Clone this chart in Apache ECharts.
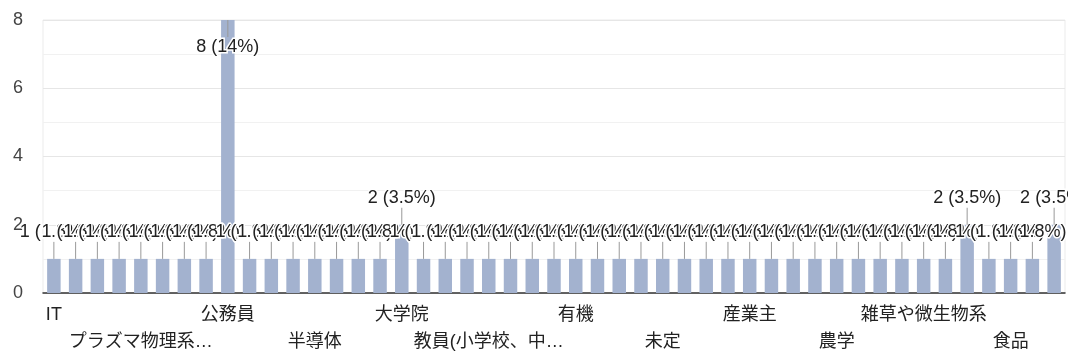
<!DOCTYPE html>
<html>
<head>
<meta charset="utf-8">
<script src="https://cdn.jsdelivr.net/npm/echarts@6/dist/echarts.min.js"></script>
<style>
  html, body { margin: 0; padding: 0; background: #fff; }
  #chart { width: 1068px; height: 356px; }
</style>
</head>
<body>
<div id="chart"></div>
<script>
// Answer categories (blank entries are answers whose names are not printed on the axis)
const categories = [
  'IT', '', '', '', 'プラズマ物理系…', '', '', '', '公務員', '', '', '',
  '半導体', '', '', '', '大学院', '', '', '', '教員(小学校、中…', '', '', '',
  '有機', '', '', '', '未定', '', '', '', '産業主', '', '', '',
  '農学', '', '', '', '雑草や微生物系', '', '', '', '食品', '', ''
];

// Number of responses per answer
const counts = [
  1, 1, 1, 1, 1, 1, 1, 1, 8, 1, 1, 1,
  1, 1, 1, 1, 2, 1, 1, 1, 1, 1, 1, 1,
  1, 1, 1, 1, 1, 1, 1, 1, 1, 1, 1, 1,
  1, 1, 1, 1, 1, 1, 2, 1, 1, 1, 2
];

// Total respondents, used for the percentage in each label
const respondents = 57;

// Value axis ticks
const yTicks = [0, 2, 4, 6, 8];

const FONT = "'Liberation Sans', Arial, 'Noto Sans CJK JP', sans-serif";

function pctText(v) {
  const p = Math.round(v / respondents * 1000) / 10;
  const s = (p % 1 === 0) ? p.toFixed(0) : p.toFixed(1);
  return v + ' (' + s + '%)';
}

const chart = echarts.init(document.getElementById('chart'), null, { renderer: 'canvas' });

const yMax = yTicks[yTicks.length - 1];

chart.setOption({
  animation: false,
  backgroundColor: '#fff',
  grid: {
    left: 43, right: 3, top: 20, bottom: 58,
    show: true, borderColor: '#ebebeb', borderWidth: 1
  },
  xAxis: {
    type: 'category',
    data: categories,
    axisLine: { show: true, lineStyle: { color: '#333', width: 1.5 } },
    axisTick: { show: false },
    splitLine: { show: false },
    axisLabel: {
      interval: 3,
      margin: 9,
      color: '#222',
      fontSize: 18,
      fontFamily: FONT,
      lineHeight: 27,
      formatter: function (value, index) {
        // alternate rows so that long names don't collide
        return (index % 8 === 4) ? '\n' + value : value;
      }
    }
  },
  yAxis: {
    type: 'value',
    min: yTicks[0],
    max: yMax,
    interval: 1,
    axisLine: { show: false },
    axisTick: { show: false },
    splitLine: { show: true, lineStyle: { color: ['#e6e6e6', '#f1f1f1'], width: 1 } },
    axisLabel: {
      margin: 20,
      color: '#444',
      fontSize: 18,
      fontFamily: FONT,
      formatter: function (v) { return yTicks.indexOf(v) >= 0 ? String(v) : ''; }
    }
  },
  series: [
    {
      type: 'bar',
      data: counts,
      barCategoryGap: '38%',
      itemStyle: { color: '#a3b2cf' },
      silent: true
    },
    {
      // value annotations with a short leader line to each bar
      type: 'custom',
      data: counts.map(function (v, i) { return [i, v]; }),
      encode: { x: 0, y: 1 },
      silent: true,
      z: 5,
      renderItem: function (params, api) {
        const i = api.value(0);
        const v = api.value(1);
        const p = api.coord([i, v]);
        const atTop = v >= yMax;
        const dir = atTop ? 1 : -1;
        const lineLen = 17;
        const textOff = 27;
        return {
          type: 'group',
          children: [
            {
              type: 'line',
              shape: { x1: p[0], y1: p[1], x2: p[0], y2: p[1] + dir * lineLen },
              style: { stroke: '#999', lineWidth: 1 }
            },
            {
              type: 'text',
              style: {
                text: pctText(v),
                x: p[0],
                y: p[1] + dir * textOff,
                align: 'center',
                verticalAlign: 'middle',
                fill: '#222',
                font: '18px ' + FONT,
                stroke: '#fff',
                lineWidth: 3
              }
            }
          ]
        };
      }
    }
  ]
});
</script>
</body>
</html>
